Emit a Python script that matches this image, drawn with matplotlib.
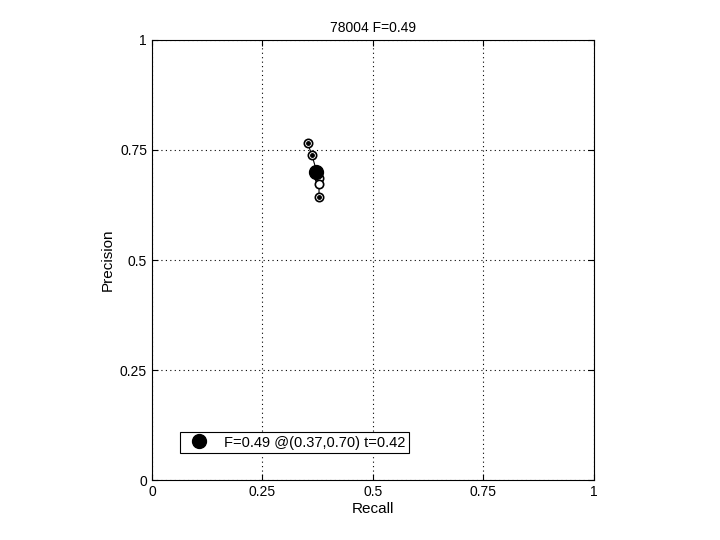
import numpy as np
import matplotlib
matplotlib.use('Agg')
import matplotlib.pyplot as plt

plt.rcParams['font.family'] = ['Liberation Sans', 'DejaVu Sans']

recall = [0.352, 0.362, 0.373, 0.377, 0.378, 0.378]
precision = [0.766, 0.738, 0.700, 0.686, 0.672, 0.643]
dotted = [True, True, True, False, False, True]
best_r, best_p = 0.372, 0.701
title = '78004 F=0.49'
label = 'F=0.49 @(0.37,0.70) t=0.42'
ticks = [0, 0.25, 0.5, 0.75, 1]
ticklabels = ['0', '0.25', '0.5', '0.75', '1']

fig = plt.figure(figsize=(7.2, 5.4), dpi=100)
ax = fig.add_axes([0.211, 0.111, 0.614, 0.815])

ax.plot(recall, precision, 'k-', lw=0.8, zorder=2)
ax.plot(recall, precision, 'o', ms=6, mfc='white', mec='k', mew=1.2, zorder=3)
dr = [r for r, d in zip(recall, dotted) if d]
dp = [p for p, d in zip(precision, dotted) if d]
ax.plot(dr, dp, 'k.', ms=5, zorder=4)
ax.plot([best_r], [best_p], 'o', ms=10, color='k', zorder=5, label=label)

ax.set_xlim(0, 1)
ax.set_ylim(0, 1)
ax.set_xticks(ticks)
ax.set_xticklabels(ticklabels)
ax.set_yticks(ticks)
ax.set_yticklabels(ticklabels)
ax.tick_params(direction='in', length=4, labelsize=10, top=True, right=True)
ax.grid(True, linestyle=(0, (1, 3)), color='k', lw=0.8)
ax.set_xlabel('Recall', fontsize=11, labelpad=2)
ax.set_ylabel('Precision', fontsize=11)
ax.set_title(title, fontsize=10)

leg = ax.legend(loc='lower left', bbox_to_anchor=(0.063, 0.061), fontsize=10.5,
                fancybox=False, edgecolor='k', framealpha=1, handlelength=2.2,
                handletextpad=0.6, borderpad=0.25, borderaxespad=0)
leg.get_frame().set_linewidth(0.8)

fig.savefig('out.png', dpi=100)
